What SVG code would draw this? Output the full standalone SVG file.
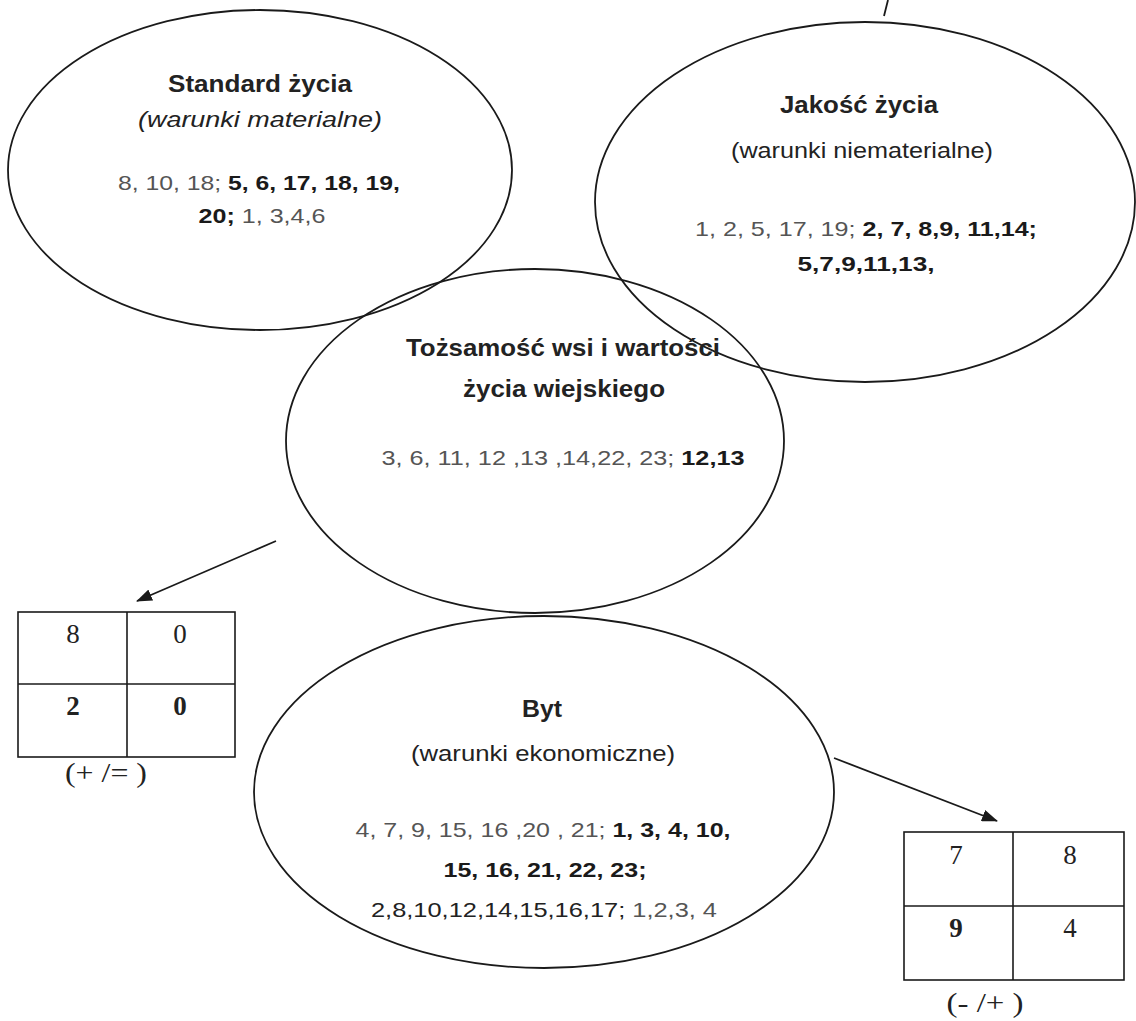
<svg xmlns="http://www.w3.org/2000/svg" width="1136" height="1021" viewBox="0 0 1136 1021">
<style>
.ell{fill:none;stroke:#1a1a1a;stroke-width:1.8}
.t{font-family:"Liberation Sans",Arial,sans-serif;fill:#222;text-anchor:middle}
.h{font-size:24px;font-weight:bold}
.s{font-size:22px}
.n{font-size:21px}
.b{font-weight:bold;fill:#1a1a1a}
.g{fill:#555}
.tb{fill:none;stroke:#1a1a1a;stroke-width:1.6}
.tn{font-family:"Liberation Serif","Times New Roman",serif;font-size:27px;fill:#222;text-anchor:middle}
.conn{stroke:#1a1a1a;stroke-width:1.8;fill:none}
</style>
<defs>
<marker id="ah" viewBox="0 0 16 12" refX="15" refY="6" markerWidth="16" markerHeight="12" markerUnits="userSpaceOnUse" orient="auto">
<path d="M0,0 L16,6 L0,12 z" fill="#1a1a1a"/>
</marker>
</defs>
<rect width="1136" height="1021" fill="#fff"/>

<g id="standard">
<ellipse class="ell" cx="260" cy="170" rx="252" ry="160"/>
<text class="t h" x="260" y="92" textLength="184" lengthAdjust="spacingAndGlyphs">Standard życia</text>
<text class="t s" x="260" y="127" font-style="italic" textLength="244" lengthAdjust="spacingAndGlyphs">(warunki  materialne)</text>
<text class="t n" x="259" y="190" textLength="282" lengthAdjust="spacingAndGlyphs"><tspan class="g">8, 10, 18; </tspan><tspan class="b">5, 6, 17, 18, 19,</tspan></text>
<text class="t n" x="262" y="223" textLength="127" lengthAdjust="spacingAndGlyphs"><tspan class="b">20; </tspan><tspan class="g">1, 3,4,6</tspan></text>
</g>

<g id="jakosc">
<ellipse class="ell" cx="865" cy="202" rx="270" ry="180"/>
<text class="t h" x="859" y="113" textLength="158" lengthAdjust="spacingAndGlyphs">Jakość życia</text>
<text class="t s" x="862" y="158" textLength="262" lengthAdjust="spacingAndGlyphs">(warunki niematerialne)</text>
<text class="t n" x="866" y="236" textLength="342" lengthAdjust="spacingAndGlyphs"><tspan class="g">1, 2, 5, 17, 19; </tspan><tspan class="b">2, 7, 8,9, 11,14;</tspan></text>
<text class="t n b" x="866" y="271" textLength="137" lengthAdjust="spacingAndGlyphs">5,7,9,11,13,</text>
</g>

<g id="tozsamosc">
<ellipse class="ell" cx="535" cy="441" rx="249" ry="172"/>
<text class="t h" x="563" y="356" textLength="314" lengthAdjust="spacingAndGlyphs">Tożsamość wsi i wartości</text>
<text class="t h" x="564" y="397" textLength="202" lengthAdjust="spacingAndGlyphs">życia wiejskiego</text>
<text class="t n" x="563" y="465" textLength="363" lengthAdjust="spacingAndGlyphs"><tspan class="g">3, 6, 11, 12 ,13 ,14,22, 23; </tspan><tspan class="b">12,13</tspan></text>
</g>

<g id="byt">
<ellipse class="ell" cx="544" cy="792" rx="290" ry="176"/>
<text class="t h" x="542" y="717" textLength="40" lengthAdjust="spacingAndGlyphs">Byt</text>
<text class="t s" x="543" y="761" textLength="264" lengthAdjust="spacingAndGlyphs">(warunki ekonomiczne)</text>
<text class="t n" x="543" y="837" textLength="375" lengthAdjust="spacingAndGlyphs"><tspan class="g">4, 7, 9, 15, 16 ,20 , 21; </tspan><tspan class="b">1, 3, 4, 10,</tspan></text>
<text class="t n b" x="545" y="877" textLength="203" lengthAdjust="spacingAndGlyphs">15, 16, 21, 22, 23;</text>
<text class="t n" x="544" y="917" textLength="346" lengthAdjust="spacingAndGlyphs"><tspan fill="#222">2,8,10,12,14,15,16,17; </tspan><tspan class="g">1,2,3, 4</tspan></text>
</g>

<g id="table-left">
<rect class="tb" x="18" y="612" width="217" height="145"/>
<line class="tb" x1="127" y1="612" x2="127" y2="757"/>
<line class="tb" x1="18" y1="684" x2="235" y2="684"/>
<text class="tn" x="73" y="643">8</text>
<text class="tn" x="180" y="643" fill="#777">0</text>
<text class="tn" x="73" y="715" font-weight="bold">2</text>
<text class="tn" x="180" y="715" font-weight="bold">0</text>
<text class="tn" x="106" y="782" font-size="27" textLength="82" lengthAdjust="spacingAndGlyphs">(+ /= )</text>
</g>

<g id="table-right">
<rect class="tb" x="904" y="832" width="220" height="148"/>
<line class="tb" x1="1013" y1="832" x2="1013" y2="980"/>
<line class="tb" x1="904" y1="906" x2="1124" y2="906"/>
<text class="tn" x="956" y="864">7</text>
<text class="tn" x="1070" y="864">8</text>
<text class="tn" x="956" y="937" font-weight="bold">9</text>
<text class="tn" x="1070" y="937">4</text>
<text class="tn" x="985" y="1012" font-size="27" textLength="77" lengthAdjust="spacingAndGlyphs">(- /+ )</text>
</g>

<g id="connectors">
<line class="conn" x1="888" y1="0" x2="884" y2="16"/>
<line class="conn" x1="276" y1="541" x2="137" y2="601" marker-end="url(#ah)"/>
<line class="conn" x1="834" y1="758" x2="997" y2="821" marker-end="url(#ah)"/>
</g>
</svg>
